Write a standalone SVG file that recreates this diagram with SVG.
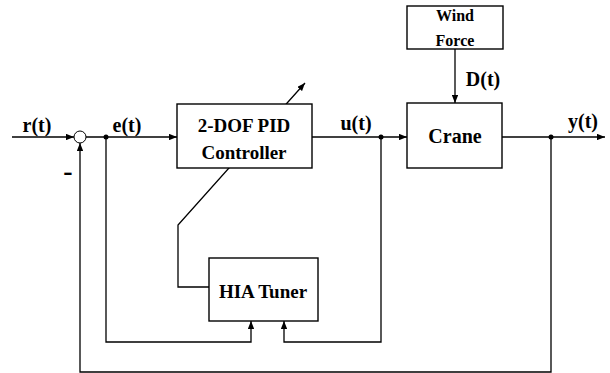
<svg xmlns="http://www.w3.org/2000/svg" width="610" height="373" viewBox="0 0 610 373">
<style>
.box{fill:#fff;stroke:#000;stroke-width:1.4}
.ln{fill:none;stroke:#000;stroke-width:1.3}
.t{font-family:"Liberation Serif","Times New Roman",serif;font-weight:bold;fill:#000;text-anchor:middle}
</style>
<defs>
<marker id="ah" viewBox="0 0 10 8" refX="10" refY="4" markerWidth="8" markerHeight="6.4" markerUnits="userSpaceOnUse" orient="auto">
<path d="M0,0 L10,4 L0,8 Z" fill="#000"/>
</marker>
</defs>
<rect width="610" height="373" fill="#fff"/>
<g id="connectors">
<line class="ln" x1="12" y1="137" x2="74" y2="137" marker-end="url(#ah)"/>
<line class="ln" x1="86" y1="137" x2="177" y2="137" marker-end="url(#ah)"/>
<line class="ln" x1="312" y1="137" x2="407" y2="137" marker-end="url(#ah)"/>
<line class="ln" x1="502" y1="137" x2="605" y2="137" marker-end="url(#ah)"/>
<line class="ln" x1="455" y1="49" x2="455" y2="103" marker-end="url(#ah)"/>
<polyline class="ln" points="551,137 551,372 80,372 80,143" marker-end="url(#ah)"/>
<polyline class="ln" points="106,137 106,342 251,342 251,321" marker-end="url(#ah)"/>
<polyline class="ln" points="381,137 381,342 284,342 284,321" marker-end="url(#ah)"/>
<polyline class="ln" points="209,287 178,287 178,225 305,83" marker-end="url(#ah)"/>
<circle cx="106" cy="137" r="2.5" fill="#000"/>
<circle cx="381" cy="137" r="2.5" fill="#000"/>
<circle cx="551" cy="137" r="2.5" fill="#000"/>
<text class="t" x="37" y="132" font-size="20">r(t)</text>
<text class="t" x="127" y="132" font-size="20">e(t)</text>
<text class="t" x="356" y="130" font-size="20">u(t)</text>
<text class="t" x="583" y="128" font-size="20">y(t)</text>
<text class="t" x="483" y="86" font-size="20">D(t)</text>
<text class="t" x="68" y="180" font-size="28">-</text>
</g>
<g id="sum">
<circle cx="80" cy="137" r="6" fill="#fff" stroke="#000" stroke-width="1"/>
</g>
<g id="controller">
<rect class="box" x="177" y="104" width="135" height="64"/>
<text class="t" x="244" y="132" font-size="19">2-DOF PID</text>
<text class="t" x="244" y="159" font-size="19">Controller</text>
</g>
<g id="crane">
<rect class="box" x="407" y="103" width="95" height="65"/>
<text class="t" x="455" y="143" font-size="20">Crane</text>
</g>
<g id="wind">
<rect class="box" x="407" y="6" width="96" height="43"/>
<text class="t" x="455" y="21" font-size="16">Wind</text>
<text class="t" x="455" y="46" font-size="16">Force</text>
</g>
<g id="tuner">
<rect class="box" x="209" y="258" width="109" height="63"/>
<text class="t" x="263" y="298" font-size="19">HIA Tuner</text>
</g>
</svg>
